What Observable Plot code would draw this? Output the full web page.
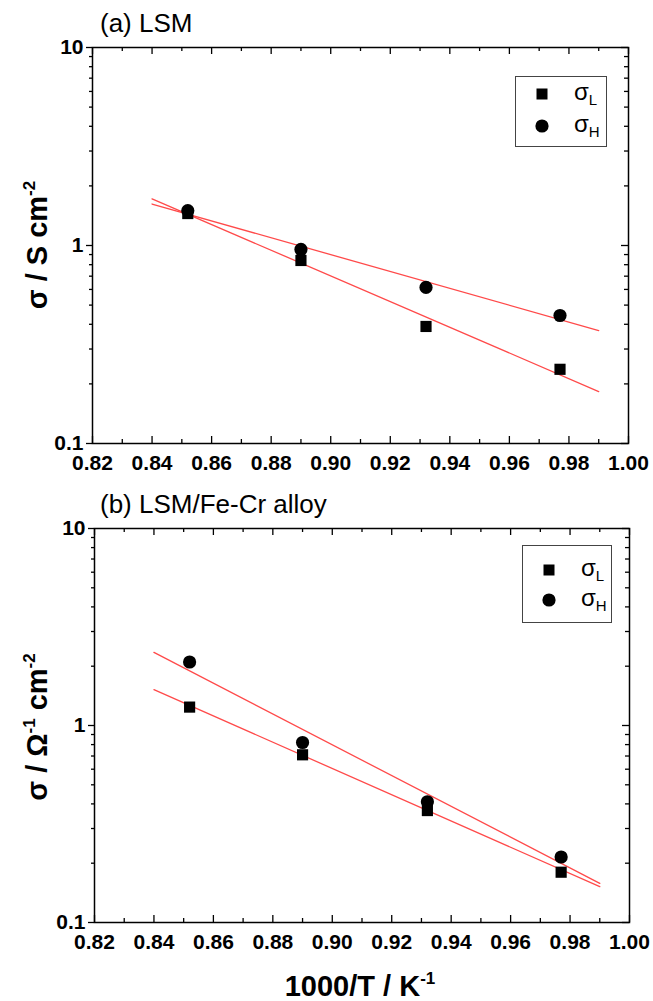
<!DOCTYPE html>
<html><head><meta charset="utf-8">
<script src="https://cdn.jsdelivr.net/npm/d3@7"></script>
<script src="https://cdn.jsdelivr.net/npm/@observablehq/plot@0.6"></script>
<style>
body{margin:0;background:#fff;}
#fig{position:relative;width:653px;height:1001px;font-family:"Liberation Sans",Arial,sans-serif;color:#000;overflow:hidden;}
.panel{position:absolute;left:0;}
.ptitle{position:absolute;font-size:26px;white-space:nowrap;line-height:1;}
.atitle{position:absolute;font-weight:bold;font-size:29px;white-space:nowrap;line-height:1;}
.atitle sup{font-size:17px;vertical-align:0.7em;line-height:0;}
.legend{position:absolute;border:1.3px solid #444;background:#fff;box-sizing:border-box;}
.li{position:absolute;font-size:24px;line-height:1;}
.li sub{font-size:15px;vertical-align:-0.35em;line-height:0;}
</style></head><body><div id="fig"></div>
<script>
// ---- data ----
const xMajor = [0.82, 0.84, 0.86, 0.88, 0.90, 0.92, 0.94, 0.96, 0.98, 1.00];
const xMinor = [0.83, 0.85, 0.87, 0.89, 0.91, 0.93, 0.95, 0.97, 0.99];
const yMajor = [0.1, 1, 10];
const yMinor = [0.2, 0.3, 0.4, 0.5, 0.6, 0.7, 0.8, 0.9, 2, 3, 4, 5, 6, 7, 8, 9];
const invT = [0.852, 0.890, 0.932, 0.977];
// panel (a) LSM
const aSigmaL = [1.45, 0.84, 0.39, 0.237];
const aSigmaH = [1.50, 0.955, 0.614, 0.443];
// panel (b) LSM/Fe-Cr alloy
const bSigmaL = [1.24, 0.71, 0.37, 0.18];
const bSigmaH = [2.10, 0.82, 0.41, 0.215];
// fitted lines (end points)
const fitX = [0.84, 0.99];
const aFitL = [1.72, 0.183];
const aFitH = [1.62, 0.372];
const bFitL = [1.52, 0.152];
const bFitH = [2.35, 0.158];

const fig = document.getElementById("fig");

function makePanel(o) {
  const pts = (ys) => invT.map((x, i) => ({x, y: ys[i]}));
  const fit = (ys) => fitX.map((x, i) => ({x, y: ys[i]}));
  const plotH = o.height - o.mt - o.mb;
  const plotW = 653 - o.ml - o.mr;
  const chart = Plot.plot({
    width: 653, height: o.height,
    marginTop: o.mt, marginBottom: o.mb, marginLeft: o.ml, marginRight: o.mr,
    style: {fontFamily: "Liberation Sans, Arial, sans-serif", color: "#000", background: "transparent"},
    x: {domain: [0.82, 1.0]},
    y: {type: "log", domain: [0.1, 10]},
    marks: [
      Plot.frame({stroke: "#000", strokeWidth: 1.5}),
      // top ticks (inward)
      Plot.tickX(xMajor, {x: d => d, insetBottom: plotH - 7, stroke: "#000", strokeWidth: 1.3}),
      Plot.tickX(xMinor, {x: d => d, insetBottom: plotH - 4, stroke: "#000", strokeWidth: 1.3}),
      // bottom ticks (inward)
      Plot.tickX(xMajor, {x: d => d, insetTop: plotH - 7, stroke: "#000", strokeWidth: 1.3}),
      Plot.tickX(xMinor, {x: d => d, insetTop: plotH - 4, stroke: "#000", strokeWidth: 1.3}),
      // right ticks (inward)
      Plot.tickY(yMajor, {y: d => d, insetLeft: plotW - 7, stroke: "#000", strokeWidth: 1.3}),
      Plot.tickY(yMinor, {y: d => d, insetLeft: plotW - 4, stroke: "#000", strokeWidth: 1.3}),
      // left axis (outward ticks) with labels
      Plot.axisY(yMajor, {anchor: "left", tickSize: 6, tickPadding: 3, strokeWidth: 1.3,
        tickFormat: d => (d < 1 ? d.toFixed(1) : String(d)), fontSize: 21, fontWeight: "bold", label: null}),
      Plot.axisY(yMinor, {anchor: "left", tickSize: 3, strokeWidth: 1.3, tickFormat: () => "", label: null}),
      // bottom labels
      Plot.axisX(xMajor, {anchor: "bottom", tickSize: 0, tickPadding: 12,
        tickFormat: d => d.toFixed(2), fontSize: 21, fontWeight: "bold", label: null}),
      Plot.line(fit(o.fitL), {x: "x", y: "y", stroke: "#ff4a4a", strokeWidth: 1.3}),
      Plot.line(fit(o.fitH), {x: "x", y: "y", stroke: "#ff4a4a", strokeWidth: 1.3}),
      Plot.dot(pts(o.sL), {x: "x", y: "y", symbol: "square", r: 6.3, fill: "#000", stroke: "none"}),
      Plot.dot(pts(o.sH), {x: "x", y: "y", symbol: "circle", r: 6.6, fill: "#000", stroke: "none"})
    ]
  });
  chart.classList.add("panel");
  chart.style.top = o.top + "px";
  fig.appendChild(chart);
}

makePanel({top: 0, height: 480, mt: 47, mb: 37, ml: 92, mr: 25,
  sL: aSigmaL, sH: aSigmaH, fitL: aFitL, fitH: aFitH});
makePanel({top: 480, height: 480, mt: 48, mb: 38, ml: 94, mr: 24,
  sL: bSigmaL, sH: bSigmaH, fitL: bFitL, fitH: bFitH});

function addEl(cls, html, style) {
  const d = document.createElement("div");
  d.className = cls; d.innerHTML = html;
  Object.assign(d.style, style);
  fig.appendChild(d);
  return d;
}
// panel titles
addEl("ptitle", "(a) LSM", {left: "100px", top: "10px"});
addEl("ptitle", "(b) LSM/Fe-Cr alloy", {left: "100px", top: "491px"});
// y-axis titles
addEl("atitle", "σ / S cm<sup>-2</sup>", {left: "37px", top: "245px", transform: "translate(-50%,-50%) rotate(-90deg)"});
addEl("atitle", "σ / Ω<sup>-1</sup> cm<sup>-2</sup>", {left: "37px", top: "727px", transform: "translate(-50%,-50%) rotate(-90deg)"});
// x-axis title
addEl("atitle", "1000/T / K<sup>-1</sup>", {left: "360px", top: "986px", transform: "translate(-50%,-50%)"});

// legends
function legend(box, sq, ci, tx) {
  addEl("legend", "", {left: box[0] + "px", top: box[1] + "px", width: box[2] + "px", height: box[3] + "px"});
  const svg = `<svg width="653" height="1001" style="position:absolute;left:0;top:0;pointer-events:none">
    <rect x="${sq[0]-5.5}" y="${sq[1]-5.5}" width="11" height="11" fill="#000"/>
    <circle cx="${ci[0]}" cy="${ci[1]}" r="6.6" fill="#000"/></svg>`;
  const d = document.createElement("div"); d.innerHTML = svg; fig.appendChild(d);
  addEl("li", "σ<sub>L</sub>", {left: tx + "px", top: (sq[1] - 14) + "px"});
  addEl("li", "σ<sub>H</sub>", {left: tx + "px", top: (ci[1] - 14) + "px"});
}
legend([515, 76, 92, 71], [542, 94], [542, 126], 574);
legend([522, 545, 90, 78], [549, 570], [549, 600], 581);
</script></body></html>
